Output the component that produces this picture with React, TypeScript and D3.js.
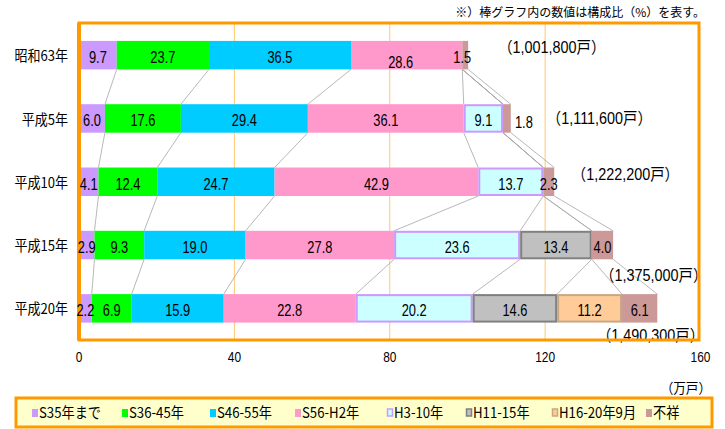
import React from "react";
import * as d3 from "d3";

// 住宅の建築時期別構成比（%）と総戸数（万戸）
const categories = ["昭和63年", "平成5年", "平成10年", "平成15年", "平成20年"];
const series = ["S35年まで", "S36-45年", "S46-55年", "S56-H2年", "H3-10年", "H11-15年", "H16-20年9月", "不祥"];
const totals = [100.18, 111.16, 122.22, 137.5, 149.03]; // 万戸
const totalLabels = ["（1,001,800戸）", "（1,111,600戸）", "（1,222,200戸）", "（1,375,000戸）", "（1,490,300戸）"];
const shares = [
  [9.7, 23.7, 36.5, 28.6, 0, 0, 0, 1.5],
  [6.0, 17.6, 29.4, 36.1, 9.1, 0, 0, 1.8],
  [4.1, 12.4, 24.7, 42.9, 13.7, 0, 0, 2.3],
  [2.9, 9.3, 19.0, 27.8, 23.6, 13.4, 0, 4.0],
  [2.2, 6.9, 15.9, 22.8, 20.2, 14.6, 11.2, 6.1],
];
const xTicks = [0, 40, 80, 120, 160];

const fills = ["#CC99FF", "#00FF00", "#00CCFF", "#FF99CC", "#CCFFFF", "#C0C0C0", "#FFCC99", "#CC9999"];
const strokes = [null, null, null, null, "#CC99FF", "#808080", "#C8A882", null];

// small placement tweaks for labels that sit off-centre in the original
const labelNudge: Record<string, [number, number]> = {
  "0-3": [-6, 5],
  "0-7": [-3, 0],
  "1-7": [17, 2],
};
const totalOffset: [number, number][] = [
  [30, -8],
  [36, 0],
  [18, -7],
  [-13, 30],
  [-61, 27],
];
const legendX = [32, 122, 210, 295, 387, 466, 552, 646];

const SANS = '"Liberation Sans", Arial, "Noto Sans CJK JP", sans-serif';
const JP = '"Noto Sans CJK JP", sans-serif';
const ORANGE = "#FF9900";

// narrow text (the original uses a condensed Gothic face)
function NText({ x, y, size, anchor = "start", sx = 0.8, family = SANS, children }: any) {
  return (
    <text
      transform={`translate(${x},${y}) scale(${sx},1)`}
      dy="0.35em"
      textAnchor={anchor}
      fontFamily={family}
      fontSize={size}
      fill="#000"
    >
      {children}
    </text>
  );
}

export default function App() {
  const width = 725;
  const height = 429;
  const left = 79;
  const right = 699;
  const top = 23;
  const bottom = 340;

  const x = d3.scaleLinear().domain([0, 160]).range([left, 700.5]);
  const y = d3
    .scaleBand<string>()
    .domain(categories)
    .range([top + 0.5, bottom])
    .paddingInner(0.55)
    .paddingOuter(0.275);
  const bh = y.bandwidth();

  // cumulative ends in 万戸 for each row/series
  const ends = shares.map((row, i) => {
    let acc = 0;
    return row.map((p) => {
      acc += p;
      return (acc / 100) * totals[i];
    });
  });
  const starts = ends.map((row) => row.map((e, j) => (j === 0 ? 0 : row[j - 1])));

  const seriesLines: { x1: number; y1: number; x2: number; y2: number; k: string }[] = [];
  for (let i = 0; i < categories.length - 1; i++) {
    for (let s = 0; s < series.length; s++) {
      seriesLines.push({
        x1: x(ends[i][s]),
        y1: (y(categories[i]) as number) + bh,
        x2: x(ends[i + 1][s]),
        y2: y(categories[i + 1]) as number,
        k: `${i}-${s}`,
      });
    }
  }

  return (
    <svg width={width} height={height} style={{ position: "absolute", left: 0, top: 0 }}>
      <rect width={width} height={height} fill="#fff" />

      <text x={705} y={17} textAnchor="end" fontFamily={JP} fontSize={12} fill="#000">
        ※）棒グラフ内の数値は構成比（%）を表す。
      </text>

      {/* gridlines */}
      {xTicks.slice(1, -1).map((t) => (
        <line key={t} x1={x(t)} x2={x(t)} y1={top} y2={bottom} stroke="#FFC870" strokeWidth={1} />
      ))}

      {/* series lines */}
      {seriesLines.map((l) => (
        <line key={l.k} x1={l.x1} y1={l.y1} x2={l.x2} y2={l.y2} stroke="#A6A6A6" strokeWidth={0.8} />
      ))}

      {/* bars */}
      {categories.map((c, i) => (
        <g key={c}>
          {shares[i].map((p, s) =>
            p > 0 ? (
              <rect
                key={s}
                x={x(starts[i][s]) + (strokes[s] ? 1 : 0)}
                y={(y(c) as number) + (strokes[s] ? 1 : 0)}
                width={x(ends[i][s]) - x(starts[i][s]) - (strokes[s] ? 2 : 0)}
                height={bh - (strokes[s] ? 2 : 0)}
                fill={fills[s]}
                stroke={strokes[s] ?? "none"}
                strokeWidth={strokes[s] ? 2 : 0}
              />
            ) : null
          )}
        </g>
      ))}

      {/* totals */}
      {categories.map((c, i) => (
        <NText
          key={c}
          x={x(totals[i]) + totalOffset[i][0]}
          y={(y(c) as number) + bh / 2 + totalOffset[i][1]}
          size={16}
          sx={0.9}
        >
          {totalLabels[i]}
        </NText>
      ))}

      {/* plot frame */}
      <rect x={left} y={top} width={right - left} height={bottom - top} fill="none" stroke={ORANGE} strokeWidth={3} />
      <line x1={left} x2={left} y1={top} y2={bottom} stroke={ORANGE} strokeWidth={4} />

      {/* segment labels */}
      {categories.map((c, i) =>
        shares[i].map((p, s) => {
          if (p <= 0) return null;
          const [dx, dy] = labelNudge[`${i}-${s}`] ?? [0, 0];
          const cx = (x(starts[i][s]) + x(ends[i][s])) / 2 + dx;
          const cy = (y(c) as number) + bh / 2 + 2 + dy;
          return (
            <NText key={`${i}-${s}`} x={cx} y={cy} size={16.5} anchor="middle" sx={0.78}>
              {p.toFixed(1)}
            </NText>
          );
        })
      )}

      {/* category labels */}
      {categories.map((c) => (
        <NText key={c} x={68} y={(y(c) as number) + bh / 2 + 1} size={14.5} anchor="end" sx={0.9} family={JP}>
          {c}
        </NText>
      ))}

      {/* x ticks */}
      {xTicks.map((t) => (
        <NText key={t} x={x(t)} y={357} size={14} anchor="middle" sx={0.85}>
          {t}
        </NText>
      ))}
      <NText x={711} y={388} size={14} anchor="end" sx={0.9} family={JP}>
        （万戸）
      </NText>

      {/* legend */}
      <rect x={16} y={398} width={696} height={29} fill="#FFFFCC" stroke={ORANGE} strokeWidth={3} />
      {series.map((s, k) => (
        <g key={s} transform={`translate(${legendX[k]}, 413)`}>
          <rect
            x={strokes[k] ? 0.5 : 0}
            y={-4}
            width={strokes[k] ? 5 : 6}
            height={strokes[k] ? 7 : 8}
            fill={fills[k]}
            stroke={strokes[k] ?? "none"}
            strokeWidth={strokes[k] ? 1.5 : 0}
          />
          <NText x={7} y={0} size={15} sx={0.88} family={JP}>
            {s}
          </NText>
        </g>
      ))}
    </svg>
  );
}
